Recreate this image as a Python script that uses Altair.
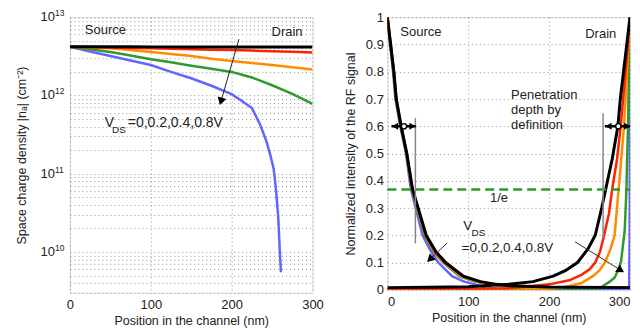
import altair as alt
import pandas as pd

FONT = "Liberation Sans"

# ---------------- Left panel data: space charge density (cm^-2) ----------------
x_left = [0, 25, 50, 75, 100, 125, 150, 175, 200, 225, 250, 275, 300]
n_black = [4.2e12, 4.2e12, 4.19e12, 4.19e12, 4.18e12, 4.18e12, 4.17e12, 4.17e12, 4.16e12, 4.16e12, 4.15e12, 4.15e12, 4.15e12]
n_red = [4.2e12, 4.15e12, 4.1e12, 4.05e12, 4.0e12, 3.95e12, 3.9e12, 3.85e12, 3.8e12, 3.75e12, 3.68e12, 3.62e12, 3.55e12]
n_orange = [4.2e12, 4.1e12, 4.0e12, 3.8e12, 3.6e12, 3.4e12, 3.2e12, 2.95e12, 2.75e12, 2.6e12, 2.45e12, 2.3e12, 2.15e12]
n_green = [4.2e12, 3.9e12, 3.6e12, 3.25e12, 2.9e12, 2.65e12, 2.4e12, 2.2e12, 2.0e12, 1.7e12, 1.35e12, 1.05e12, 0.78e12]
x_left_blue = [0, 25, 50, 75, 100, 125, 150, 175, 200, 215, 225, 235, 243, 248, 252, 255, 257.6, 259.6, 261]
n_blue = [4.2e12, 3.65e12, 3.2e12, 2.8e12, 2.45e12, 2.0e12, 1.66e12, 1.33e12, 1.04e12, 8.2e11, 6.9e11, 4.3e11,
          2.6e11, 1.7e11, 1.15e11, 6.0e10, 2.8e10, 1.0e10, 5.5e9]

# decade tick labels of the log axis
decades = [1e10, 1e11, 1e12, 1e13]
decade_base = ["10", "10", "10", "10"]
decade_exp = ["10", "11", "12", "13"]

# ---------------- Right panel data: normalized RF intensity ----------------
src_y = [1.0, 0.9, 0.8, 0.7, 0.6, 0.5, 0.37, 0.3, 0.2, 0.14, 0.1, 0.05, 0.03, 0.02, 0.015, 0.01, 0.008]
src_x_black = [0, 4, 8, 11, 17, 24, 31, 38, 48, 60, 72, 94, 115, 135, 150, 200, 300]
src_x_red = [0, 4, 8, 11, 17, 24, 31, 37.5, 47.5, 59, 71, 93, 114, 133, 148, 190, 300]
src_x_orange = [0, 4, 8, 11, 17, 24, 30.5, 37, 47, 58, 70, 91, 111, 130, 145, 185, 300]
src_x_green = [0, 4, 7.5, 10.5, 16.5, 23.5, 30, 36.5, 46, 57, 69, 89, 108, 127, 140, 175, 300]
src_x_blue = [0, 3.5, 7, 10, 16, 23, 29, 35, 43.5, 54, 63, 80, 95, 108, 118, 135, 300]
src_y_blue = [1.0, 0.9, 0.8, 0.7, 0.6, 0.5, 0.37, 0.3, 0.2, 0.14, 0.1, 0.05, 0.03, 0.02, 0.012, 0.004, 0.0]

drn_x_black = [0, 50, 100, 150, 180, 205, 220, 235, 248, 257, 265, 270, 278, 285, 288, 292, 296, 300]
drn_y_black = [0.008, 0.009, 0.011, 0.02, 0.03, 0.05, 0.07, 0.1, 0.15, 0.2, 0.3, 0.37, 0.48, 0.6, 0.7, 0.8, 0.9, 1.0]
drn_x_red = [0, 100, 150, 200, 225, 240, 250, 257, 263, 268, 274, 278, 284, 288.5, 293, 297, 300]
drn_y_red = [0.002, 0.003, 0.006, 0.02, 0.035, 0.055, 0.075, 0.1, 0.14, 0.2, 0.28, 0.37, 0.48, 0.6, 0.75, 0.88, 1.0]
drn_x_orange = [0, 150, 200, 220, 240, 254, 262, 269, 276, 281, 286, 292.6, 296, 300]
drn_y_orange = [0.0, 0.001, 0.004, 0.01, 0.025, 0.05, 0.07, 0.1, 0.15, 0.2, 0.37, 0.6, 0.78, 1.0]
drn_x_green = [0, 200, 250, 262, 267, 275, 281, 286, 289, 293.4, 295.5, 297.5, 299, 300]
drn_y_green = [0, 0, 0.002, 0.006, 0.015, 0.03, 0.045, 0.075, 0.106, 0.216, 0.36, 0.6, 0.85, 1.0]
drn_x_blue = [0, 299, 299.6, 300]
drn_y_blue = [0, 0.005, 0.2, 1.0]

colors = {"black": "#000000", "red": "#ff2200", "orange": "#ff8c00", "green": "#2e9a2e", "blue": "#6464ff"}
widths = {"black": 3, "red": 2.5, "orange": 2.5, "green": 2.5, "blue": 2.5}
TXT = "#222222"

grid_kw = dict(grid=True, gridDash=[1, 3], gridColor="#888888", gridOpacity=0.9, ticks=False, domain=False,
               labelFont=FONT, titleFont=FONT, labelFontSize=13, titleFontSize=12.5,
               labelColor=TXT, titleColor=TXT, titleFontWeight="normal")

# ---------------- Left panel ----------------
xs_l = alt.Scale(domain=[0, 300], nice=False, zero=False, padding=0)
ys_l = alt.Scale(type="log", domain=[3e9, 1e13], nice=False, padding=0)

log_vals = []
for d in [9, 10, 11, 12]:
    for k in range(1, 10):
        v = float(k * 10 ** d)
        if 3e9 <= v <= 1e13:
            log_vals.append(v)
log_vals.append(1e13)

x_axis_l = alt.Axis(values=[0, 100, 200, 300], title="Position in the channel (nm)", labelPadding=6, titlePadding=3,
                    labelFlush=False, **grid_kw)
y_axis_l = alt.Axis(values=log_vals, labels=False, title="Space charge density |nₐ| (cm⁻²)", titlePadding=41,
                    labelFlush=False, **grid_kw)


def lenc(chart):
    return chart.encode(
        x=alt.X("x:Q", scale=xs_l, axis=x_axis_l),
        y=alt.Y("y:Q", scale=ys_l, axis=y_axis_l),
    )


left_layers = []
left_series = [("blue", x_left_blue, n_blue), ("green", x_left, n_green), ("orange", x_left, n_orange),
               ("red", x_left, n_red), ("black", x_left, n_black)]
for name, xv, yv in left_series:
    df = pd.DataFrame({"x": xv, "y": yv, "i": range(len(xv))})
    ch = alt.Chart(df).mark_line(color=colors[name], strokeWidth=widths[name], clip=True)
    left_layers.append(lenc(ch).encode(order="i:Q"))

# log-axis decade labels (10 with superscript exponent)
dec_df = pd.DataFrame({"y": decades, "b": decade_base, "e": decade_exp})
left_layers.append(alt.Chart(dec_df).mark_text(align="right", baseline="middle", font=FONT, fontSize=13, color=TXT).encode(
    x=alt.value(-15), y=alt.Y("y:Q", scale=ys_l, axis=y_axis_l), text="b:N"))
left_layers.append(alt.Chart(dec_df).mark_text(align="left", baseline="middle", font=FONT, fontSize=8.5, color=TXT, dy=-4).encode(
    x=alt.value(-15), y=alt.Y("y:Q", scale=ys_l, axis=y_axis_l), text="e:N"))

txt_l = [
    (18.5, 6.8e12, "Source", "left", 13), (287.7, 6.4e12, "Drain", "right", 13),
    (43.2, 4.43e11, "V", "left", 14), (71.5, 4.43e11, "=0,0.2,0.4,0.8V", "left", 14),
    (52.0, 3.6e11, "DS", "left", 10),
]
for x, y, t, a, fs in txt_l:
    left_layers.append(lenc(alt.Chart(pd.DataFrame({"x": [x], "y": [y], "t": [t]})).mark_text(
        align=a, baseline="middle", font=FONT, fontSize=fs, color=TXT)).encode(text="t:N"))
# arrow
left_layers.append(lenc(alt.Chart(pd.DataFrame({"x": [209.0], "y": [5.24e12], "x2": [186.8], "y2": [8.4e11]})).mark_rule(
    color=TXT, strokeWidth=1)).encode(x2="x2:Q", y2="y2:Q"))
left_layers.append(lenc(alt.Chart(pd.DataFrame({"x": [186.8], "y": [8.4e11]})).mark_point(
    shape="triangle-up", filled=True, color="#000000", size=80, opacity=1, angle=196)))

left = alt.layer(*left_layers).properties(width=243, height=276)

# ---------------- Right panel ----------------
xs_r = alt.Scale(domain=[0, 300], nice=False, zero=False, padding=0)
ys_r = alt.Scale(domain=[0, 1], nice=False, zero=False, padding=0)
x_axis_r = alt.Axis(values=[0, 100, 200, 300], title="Position in the channel (nm)", labelPadding=6, titlePadding=3,
                    labelFlush=True, **grid_kw)
y_axis_r = alt.Axis(values=[round(v * 0.1, 1) for v in range(11)], format=".1~f", labelPadding=4,
                    title="Normalized intensity of the RF signal", titlePadding=8, labelFlush=False, **grid_kw)


def renc(chart):
    return chart.encode(
        x=alt.X("x:Q", scale=xs_r, axis=x_axis_r),
        y=alt.Y("y:Q", scale=ys_r, axis=y_axis_r),
    )


right_layers = []
right_series = [
    ("blue", src_x_blue, src_y_blue), ("green", src_x_green, src_y), ("orange", src_x_orange, src_y),
    ("red", src_x_red, src_y), ("blue", drn_x_blue, drn_y_blue), ("green", drn_x_green, drn_y_green),
    ("orange", drn_x_orange, drn_y_orange), ("red", drn_x_red, drn_y_red),
    ("black", src_x_black, src_y), ("black", drn_x_black, drn_y_black),
]
for name, xv, yv in right_series:
    df = pd.DataFrame({"x": xv, "y": yv, "i": range(len(xv))})
    ch = alt.Chart(df).mark_line(color=colors[name], strokeWidth=widths[name], clip=True)
    right_layers.append(renc(ch).encode(order="i:Q"))

# 1/e dashed line
right_layers.append(renc(alt.Chart(pd.DataFrame({"x": [0.0], "y": [0.368], "x2": [300.0]})).mark_rule(
    color="#2e9a2e", strokeWidth=2.5, strokeDash=[9, 5])).encode(x2="x2:Q"))
# penetration depth vertical markers
right_layers.append(renc(alt.Chart(pd.DataFrame({"x": [34.6, 266.7], "y": [0.17, 0.19], "y2": [0.63, 0.648]})).mark_rule(
    color="#888888", strokeWidth=1.5)).encode(y2="y2:Q"))
# double arrows at 0.6
right_layers.append(renc(alt.Chart(pd.DataFrame({"x": [5.0, 269.0], "y": [0.6, 0.6], "x2": [35.0, 300.0]})).mark_rule(
    color="#000000", strokeWidth=2.5)).encode(x2="x2:Q"))
right_layers.append(renc(alt.Chart(pd.DataFrame({"x": [9.5, 273.5], "y": [0.6, 0.6]})).mark_point(
    shape="triangle-left", filled=True, color="#000000", size=50, opacity=1)))
right_layers.append(renc(alt.Chart(pd.DataFrame({"x": [31.0, 296.5], "y": [0.6, 0.6]})).mark_point(
    shape="triangle-right", filled=True, color="#000000", size=50, opacity=1)))
right_layers.append(renc(alt.Chart(pd.DataFrame({"x": [20.5, 285.5], "y": [0.6, 0.6]})).mark_point(
    shape="circle", filled=True, fill="#ffffff", stroke="#000000", strokeWidth=1.5, size=28, opacity=1)))
# arrows
right_layers.append(renc(alt.Chart(pd.DataFrame({"x": [74.0, 232.1], "y": [0.172, 0.176], "x2": [52.6, 288.6], "y2": [0.112, 0.0718]})).mark_rule(
    color="#333333", strokeWidth=1)).encode(x2="x2:Q", y2="y2:Q"))
right_layers.append(renc(alt.Chart(pd.DataFrame({"x": [52.6], "y": [0.112]})).mark_point(
    shape="triangle-up", filled=True, color="#000000", size=80, opacity=1, angle=226)))
right_layers.append(renc(alt.Chart(pd.DataFrame({"x": [288.6], "y": [0.0718]})).mark_point(
    shape="triangle-up", filled=True, color="#000000", size=80, opacity=1, angle=122)))

txt_r = [
    (16.0, 0.945, "Source", "left", 13), (283.0, 0.938, "Drain", "right", 13),
    (153.0, 0.714, "Penetration", "left", 13), (153.0, 0.659, "depth by", "left", 13),
    (153.0, 0.604, "definition", "left", 13), (126.8, 0.336, "1/e", "left", 13),
    (93.8, 0.234, "V", "left", 13.5), (91.7, 0.154, "=0,0.2,0.4,0.8V", "left", 13.5),
    (104.0, 0.209, "DS", "left", 10),
]
for x, y, t, a, fs in txt_r:
    right_layers.append(renc(alt.Chart(pd.DataFrame({"x": [x], "y": [y], "t": [t]})).mark_text(
        align=a, baseline="middle", font=FONT, fontSize=fs, color=TXT)).encode(text="t:N"))

right = alt.layer(*right_layers).properties(width=243, height=273)

chart = alt.hconcat(left, right, spacing=19).properties(
    padding={"left": 7, "top": 0, "right": 0, "bottom": 0}
).configure_view(stroke="#555555", strokeWidth=1.5).configure(background="white")

chart.save("out.html", embed_options={"renderer": "svg", "actions": False})
